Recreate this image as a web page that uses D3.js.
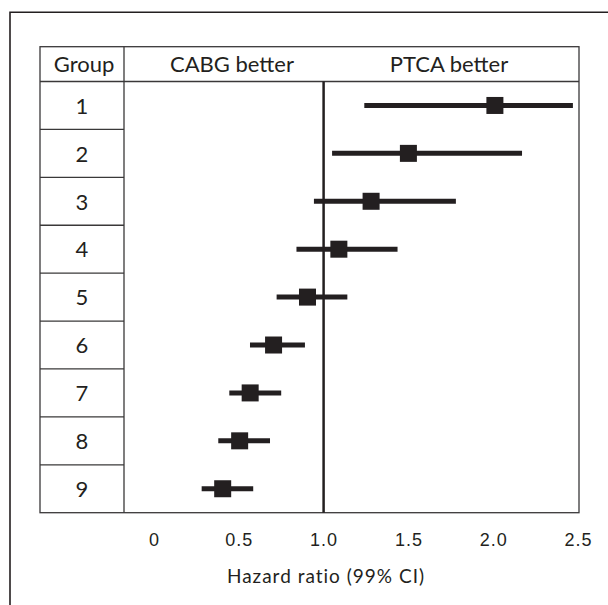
<!DOCTYPE html>
<html>
<head>
<meta charset="utf-8">
<script src="https://cdn.jsdelivr.net/npm/d3@7"></script>
<style>
  html, body { margin: 0; padding: 0; background: #fff; }
  svg { display: block; font-family: Lato, "Open Sans", sans-serif; }
  .ink { fill: #231f20; }
</style>
</head>
<body>
<svg id="chart" width="608" height="605"></svg>
<script>
// forest plot: hazard ratio by group (99% CI)
var groups = ['1', '2', '3', '4', '5', '6', '7', '8', '9'];
var hazard = [2.01, 1.50, 1.28, 1.09, 0.905, 0.705, 0.567, 0.505, 0.405];
var ciLow  = [1.24, 1.05, 0.943, 0.84, 0.723, 0.566, 0.444, 0.379, 0.281];
var ciHigh = [2.47, 2.17, 1.78, 1.436, 1.14, 0.89, 0.75, 0.684, 0.585];
var tickValues = [0, 0.5, 1.0, 1.5, 2.0, 2.5];
var headers = ['Group', 'CABG better', 'PTCA better'];

var svg = d3.select('#chart');

var tbl = {left: 40, groupRight: 124, right: 579, top: 46.7, headBottom: 81.5, bottom: 512.7};

var x = d3.scaleLinear().domain([0, 2.5]).range([154, 578]);
var y = d3.scaleBand().domain(groups).range([tbl.headBottom, tbl.bottom]);

var rows = groups.map(function(g, i) {
  return {group: g, hr: hazard[i], lo: ciLow[i], hi: ciHigh[i]};
});

// outer frame (open on right and bottom)
svg.append('path')
  .attr('d', 'M10,605V12.3H608')
  .attr('fill', 'none')
  .attr('stroke', '#231f20')
  .attr('stroke-width', 1.6);

// table grid
var grid = svg.append('g')
  .attr('fill', 'none')
  .attr('stroke', '#3a3839')
  .attr('stroke-width', 1.3);

grid.append('rect')
  .attr('x', tbl.left).attr('y', tbl.top)
  .attr('width', tbl.right - tbl.left)
  .attr('height', tbl.bottom - tbl.top);

grid.append('line')
  .attr('x1', tbl.groupRight).attr('x2', tbl.groupRight)
  .attr('y1', tbl.top).attr('y2', tbl.bottom);

grid.append('line')
  .attr('x1', tbl.left).attr('x2', tbl.right)
  .attr('y1', tbl.headBottom).attr('y2', tbl.headBottom);

grid.selectAll('line.row')
  .data(groups.slice(1))
  .enter().append('line')
  .attr('class', 'row')
  .attr('x1', tbl.left).attr('x2', tbl.groupRight)
  .attr('y1', function(d) { return y(d); })
  .attr('y2', function(d) { return y(d); });

// header labels
var headX = [(tbl.left + tbl.groupRight) / 2 + 2, 232, 449];
svg.selectAll('text.head')
  .data(headers)
  .enter().append('text')
  .attr('class', 'head ink')
  .attr('x', function(d, i) { return headX[i]; })
  .attr('y', 72)
  .attr('text-anchor', 'middle')
  .attr('font-size', 22)
  .text(function(d) { return d; });

// group numbers
svg.selectAll('text.grp')
  .data(groups)
  .enter().append('text')
  .attr('class', 'grp ink')
  .attr('x', (tbl.left + tbl.groupRight) / 2)
  .attr('y', function(d) { return y(d) + y.bandwidth() / 2 + 8.3; })
  .attr('text-anchor', 'middle')
  .attr('font-size', 22)
  .text(function(d) { return d; });

// line of no effect
svg.append('line')
  .attr('x1', x(1)).attr('x2', x(1))
  .attr('y1', tbl.headBottom).attr('y2', tbl.bottom)
  .attr('stroke', '#231f20')
  .attr('stroke-width', 2.5);

// confidence intervals + point estimates
var marks = svg.selectAll('g.mark')
  .data(rows)
  .enter().append('g')
  .attr('class', 'mark')
  .attr('transform', function(d) { return 'translate(0,' + (y(d.group) + y.bandwidth() / 2) + ')'; });

marks.append('line')
  .attr('x1', function(d) { return x(d.lo); })
  .attr('x2', function(d) { return x(d.hi); })
  .attr('stroke', '#231f20')
  .attr('stroke-width', 5);

var sq = 17;
marks.append('rect')
  .attr('x', function(d) { return x(d.hr) - sq / 2; })
  .attr('y', -sq / 2)
  .attr('width', sq).attr('height', sq)
  .attr('fill', '#231f20');

// x axis (labels only)
var axis = d3.axisBottom(x)
  .tickValues(tickValues)
  .tickSize(0)
  .tickPadding(0)
  .tickFormat(function(d) { return d === 0 ? '0' : d3.format('.1f')(d); });

var ax = svg.append('g')
  .attr('transform', 'translate(0,533)')
  .call(axis);
ax.select('.domain').remove();
ax.selectAll('text')
  .attr('class', 'ink')
  .attr('fill', null)
  .attr('font-family', null)
  .attr('font-size', 18)
  .attr('letter-spacing', 1)
  .attr('dy', '0.71em');

svg.append('text')
  .attr('class', 'ink')
  .attr('x', 326)
  .attr('y', 583)
  .attr('text-anchor', 'middle')
  .attr('font-size', 19)
  .attr('letter-spacing', 1)
  .text('Hazard ratio (99% CI)');
</script>
</body>
</html>
